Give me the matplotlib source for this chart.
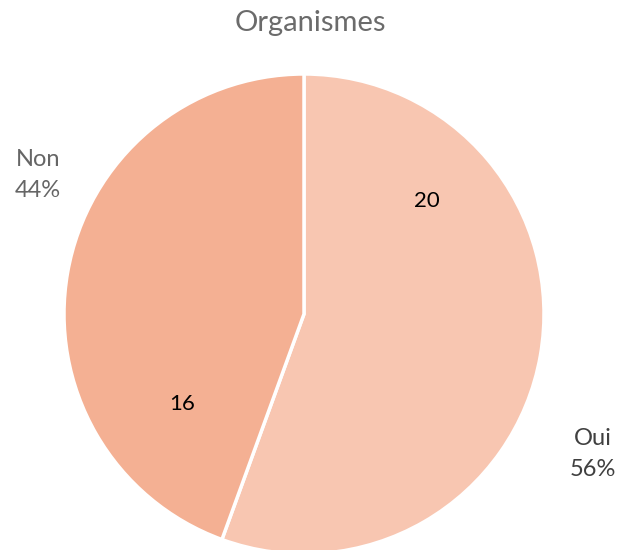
import matplotlib.pyplot as plt

# Data
categories = ['Oui', 'Non']
counts = [20, 16]
colors = ['#F8C6B1', '#F4B093']
title = 'Organismes'

plt.rcParams['font.family'] = ['Lato', 'DejaVu Sans']

fig = plt.figure(figsize=(6.2, 5.5), dpi=100)
ax = fig.add_axes([0, 0, 1, 1])

cx, cy, r = 304, 550 - 314, 240
wedges, _ = ax.pie(counts, colors=colors, startangle=90, counterclock=False,
                   center=(cx, cy), radius=r, frame=True,
                   wedgeprops=dict(edgecolor='white', linewidth=2.5))
ax.set_xlim(0, 620)
ax.set_ylim(0, 550)
ax.set_aspect('equal')
ax.axis('off')

total = sum(counts)
pct = [round(100 * c / total) for c in counts]

# value labels inside
ax.text(427, 550 - 201, str(counts[0]), ha='center', va='center', fontsize=16, color='black')
ax.text(182, 550 - 404, str(counts[1]), ha='center', va='center', fontsize=16, color='black')

# category labels outside
ax.text(38, 550 - 175, f'{categories[1]}\n{pct[1]}%', ha='center', va='center',
        fontsize=17, color='#666666', linespacing=1.6)
ax.text(593, 550 - 454, f'{categories[0]}\n{pct[0]}%', ha='center', va='center',
        fontsize=17, color='#404040', linespacing=1.6)

ax.text(310, 550 - 23, title, ha='center', va='center', fontsize=21, color='#6b6b6b')

fig.savefig('out.png', dpi=100)
